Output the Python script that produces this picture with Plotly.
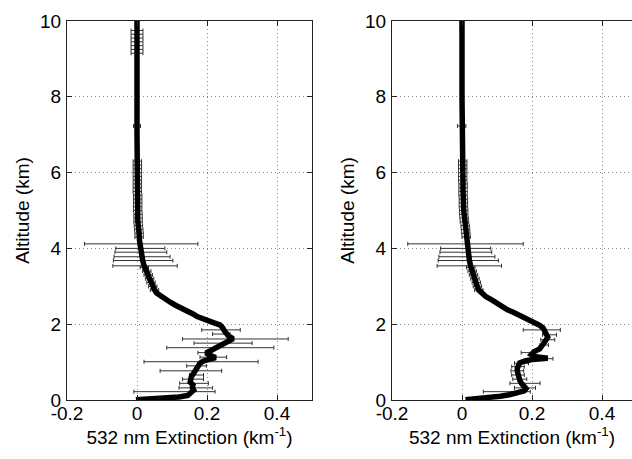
import plotly.graph_objects as go

# ---------------- data ----------------
# Left panel extinction profile (altitude km, extinction km^-1)
alt_left = [0.01, 0.03, 0.05, 0.08, 0.12, 0.18, 0.26, 0.33, 0.40, 0.47, 0.55, 0.61, 0.68, 0.75,
            0.83, 0.90, 0.97, 1.03, 1.08, 1.12, 1.17, 1.24, 1.30, 1.37, 1.44, 1.50, 1.56, 1.62,
            1.68, 1.74, 1.82, 1.90, 1.98, 2.03, 2.08, 2.14, 2.20, 2.27, 2.35, 2.42, 2.50, 2.58,
            2.66, 2.74, 2.82, 2.91, 2.99, 3.10, 3.20, 3.34, 3.45, 3.55, 3.69, 3.87, 4.05, 4.22,
            4.40, 4.57, 4.75, 5.0, 5.5, 6.0, 7.0, 8.0, 9.0, 10.0]
ext_left = [-0.003, 0.04, 0.08, 0.12, 0.145, 0.155, 0.162, 0.158, 0.16, 0.152, 0.152, 0.155, 0.16, 0.165,
            0.17, 0.175, 0.18, 0.19, 0.205, 0.225, 0.21, 0.197, 0.21, 0.223, 0.235, 0.246, 0.262, 0.275,
            0.262, 0.255, 0.25, 0.245, 0.237, 0.222, 0.205, 0.185, 0.172, 0.16, 0.14, 0.125, 0.11, 0.095,
            0.08, 0.066, 0.056, 0.05, 0.045, 0.04, 0.036, 0.03, 0.024, 0.02, 0.016, 0.012, 0.009, 0.007,
            0.006, 0.003, 0.002, 0.002, 0.001, 0.001, 0.0, 0.0, 0.0, 0.0]

# Left panel error bars (altitude, centre, half-width)
err_alt_left = [0.22, 0.32, 0.44, 0.55, 0.66, 0.77, 0.90, 1.01, 1.13, 1.25, 1.38, 1.50, 1.61, 1.74, 1.85,
                2.9, 3.0, 3.1, 3.2, 3.3, 3.4, 3.5,
                3.54, 3.68, 3.78, 3.90, 4.00, 4.12,
                4.3, 4.4, 4.5, 4.6, 4.7, 4.8, 4.9, 5.0, 5.1, 5.2, 5.3, 5.4, 5.5, 5.6, 5.7, 5.8, 5.9, 6.0,
                6.1, 6.2, 6.3,
                7.23,
                9.15, 9.25, 9.35, 9.45, 9.55, 9.65, 9.75]
err_ctr_left = [0.107, 0.168, 0.163, 0.16, 0.17, 0.154, 0.17, 0.183, 0.218, 0.194, 0.238, 0.246, 0.281, 0.241, 0.24,
                0.05, 0.045, 0.04, 0.036, 0.032, 0.028, 0.021,
                0.023, 0.0175, 0.0145, 0.011, 0.0095, 0.012,
                0.006, 0.006, 0.005, 0.004, 0.003, 0.003, 0.003, 0.002, 0.002, 0.002, 0.002, 0.002, 0.001, 0.001,
                0.001, 0.001, 0.001, 0.001, 0.001, 0.001, 0.001,
                0.0,
                0.0, 0.0, 0.0, 0.0, 0.0, 0.0, 0.0]
err_hw_left = [0.116, 0.048, 0.041, 0.03, 0.02, 0.088, 0.028, 0.163, 0.038, 0.02, 0.153, 0.083, 0.151, 0.025, 0.055,
               0.012, 0.012, 0.012, 0.012, 0.012, 0.012, 0.012,
               0.092, 0.085, 0.08, 0.074, 0.07, 0.162,
               0.012, 0.012, 0.012, 0.012, 0.012, 0.012, 0.012, 0.012, 0.012, 0.012, 0.012, 0.012, 0.012, 0.012,
               0.012, 0.012, 0.012, 0.012, 0.012, 0.012, 0.012,
               0.01,
               0.017, 0.017, 0.017, 0.017, 0.017, 0.017, 0.017]

# Right panel extinction profile
alt_right = [0.01, 0.03, 0.06, 0.10, 0.14, 0.19, 0.24, 0.30, 0.36, 0.44, 0.52, 0.60, 0.68, 0.76, 0.84,
             0.92, 0.98, 1.03, 1.07, 1.10, 1.14, 1.20, 1.27, 1.35, 1.43, 1.50, 1.58, 1.66, 1.74, 1.82,
             1.90, 1.97, 2.04, 2.10, 2.17, 2.24, 2.31, 2.38, 2.46, 2.55, 2.64, 2.73, 2.81, 2.90, 2.99,
             3.17, 3.34, 3.52, 3.69, 3.87, 4.05, 4.22, 4.40, 4.57, 4.75, 5.0, 5.5, 6.0, 7.0, 8.0, 9.0, 10.0]
ext_right = [0.01, 0.04, 0.08, 0.11, 0.135, 0.16, 0.178, 0.183, 0.175, 0.17, 0.165, 0.162, 0.16, 0.158, 0.158,
             0.16, 0.165, 0.18, 0.2, 0.245, 0.21, 0.198, 0.205, 0.222, 0.23, 0.233, 0.24, 0.245, 0.24, 0.236,
             0.232, 0.222, 0.208, 0.19, 0.175, 0.16, 0.148, 0.13, 0.118, 0.1, 0.085, 0.068, 0.056, 0.048, 0.044,
             0.037, 0.03, 0.025, 0.021, 0.019, 0.016, 0.013, 0.011, 0.009, 0.006, 0.005, 0.003, 0.002, 0.001, 0.0, 0.0, 0.0]

err_alt_right = [0.22, 0.32, 0.44, 0.55, 0.66, 0.77, 0.88, 0.97, 1.09, 1.25, 1.45, 1.59, 1.72, 1.85,
                 2.9, 3.0, 3.1, 3.2, 3.3, 3.4, 3.5,
                 3.54, 3.68, 3.78, 3.90, 4.00, 4.12,
                 4.3, 4.4, 4.5, 4.6, 4.7, 4.8, 4.9, 5.0, 5.1, 5.2, 5.3, 5.4, 5.5, 5.6, 5.7, 5.8, 5.9, 6.0,
                 6.1, 6.2, 6.3,
                 7.23]
err_ctr_right = [0.128, 0.18, 0.18, 0.165, 0.16, 0.158, 0.16, 0.17, 0.232, 0.19, 0.235, 0.245, 0.25, 0.228,
                 0.048, 0.044, 0.041, 0.037, 0.033, 0.029, 0.025,
                 0.021, 0.018, 0.014, 0.011, 0.0105, 0.01,
                 0.012, 0.011, 0.01, 0.009, 0.007, 0.006, 0.005, 0.005, 0.004, 0.004, 0.004, 0.003, 0.003, 0.003,
                 0.003, 0.002, 0.002, 0.002, 0.002, 0.002, 0.002,
                 -0.001]
err_hw_right = [0.067, 0.03, 0.043, 0.02, 0.018, 0.018, 0.018, 0.02, 0.028, 0.021, 0.012, 0.02, 0.02, 0.053,
                0.012, 0.012, 0.012, 0.012, 0.012, 0.012, 0.012,
                0.092, 0.086, 0.08, 0.074, 0.0715, 0.165,
                0.012, 0.012, 0.012, 0.012, 0.012, 0.012, 0.012, 0.012, 0.012, 0.012, 0.012, 0.012, 0.012, 0.012,
                0.012, 0.012, 0.012, 0.012, 0.012, 0.012, 0.012,
                0.012]

x_ticks = [-0.2, 0, 0.2, 0.4]
x_ticklabels = ["-0.2", "0", "0.2", "0.4"]
y_ticks = [0, 2, 4, 6, 8, 10]
y_ticklabels = ["0", "2", "4", "6", "8", "10"]
x_title = "532 nm Extinction (km<sup>-1</sup>)"
y_title = "Altitude (km)"

# ---------------- figure ----------------
FONT = "Arial, 'Liberation Sans', sans-serif"
ERRC = "#333333"
FS = 19

fig = go.Figure()

def add_panel(xa, ya, alt, ext, ea, ec, eh):
    fig.add_trace(go.Scatter(
        x=ec, y=ea, xaxis=xa, yaxis=ya, mode="markers",
        marker=dict(size=1, color="rgba(0,0,0,0)"),
        error_x=dict(type="data", array=eh, symmetric=True, color=ERRC, thickness=1, width=2),
        showlegend=False, hoverinfo="skip"))
    fig.add_trace(go.Scatter(
        x=ext, y=alt, xaxis=xa, yaxis=ya, mode="lines",
        line=dict(color="black", width=5.5), showlegend=False))

add_panel("x", "y", alt_left, ext_left, err_alt_left, err_ctr_left, err_hw_left)
add_panel("x2", "y2", alt_right, ext_right, err_alt_right, err_ctr_right, err_hw_right)

ydom = [1 - 400 / 459, 1 - 21 / 459]

common_x = dict(tickvals=x_ticks, ticktext=x_ticklabels, showgrid=True, gridcolor="#8a8a8a",
                griddash="1px,3px", gridwidth=1, zeroline=False, showline=True, linecolor="#222",
                linewidth=1, ticks="inside", ticklen=5, tickcolor="#222", automargin=False,
                ticklabelstandoff=-4,
                tickfont=dict(family=FONT, size=FS, color="black"),
                title=dict(text=x_title, font=dict(family=FONT, size=FS, color="black"), standoff=4))
common_y = dict(tickvals=y_ticks, ticktext=y_ticklabels, range=[0, 10], showgrid=True,
                gridcolor="#8a8a8a", griddash="1px,3px", gridwidth=1, zeroline=False, showline=True,
                linecolor="#222", linewidth=1, ticks="inside", ticklen=5, tickcolor="#222",
                automargin=False,
                tickfont=dict(family=FONT, size=FS, color="black"), ticklabelstandoff=1,
                title=dict(text=y_title, font=dict(family=FONT, size=FS, color="black"), standoff=5))

fig.update_layout(
    width=632, height=459,
    margin=dict(l=0, r=0, t=0, b=0),
    paper_bgcolor="white", plot_bgcolor="white",
    xaxis=dict(domain=[67 / 632, 312 / 632], range=[-0.2, 0.5], anchor="y", mirror="ticks", **common_x),
    yaxis=dict(domain=ydom, anchor="x", mirror="ticks", **common_y),
    xaxis2=dict(domain=[392 / 632, 1.0], range=[-0.2, 0.4857], anchor="y2", mirror="ticks", **common_x),
    yaxis2=dict(domain=ydom, anchor="x2", mirror=False, **common_y),
)

fig.write_html("out.html", config={"displayModeBar": False},
               post_script="document.body.style.margin='0';document.body.style.padding='0';")
